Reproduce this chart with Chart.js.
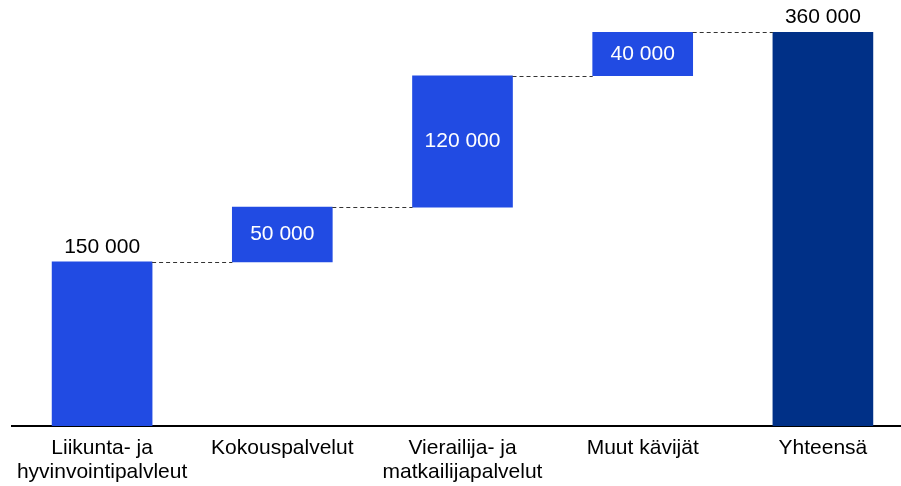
<!DOCTYPE html>
<html>
<head>
<meta charset="utf-8">
<script src="https://cdn.jsdelivr.net/npm/chart.js@4/dist/chart.umd.min.js"></script>
<style>
  html, body { margin: 0; padding: 0; background: #fff; overflow: hidden; }
  #wrap { width: 913px; height: 486px; }
</style>
</head>
<body>
<div id="wrap"><canvas id="chart" width="913" height="486"></canvas></div>
<script>
const categories = [
  ['Liikunta- ja', 'hyvinvointipalvleut'],
  'Kokouspalvelut',
  ['Vierailija- ja', 'matkailijapalvelut'],
  'Muut kävijät',
  'Yhteensä'
];
const increments = [150000, 50000, 120000, 40000];
const total = 360000;

const blue = '#214be3';
const darkBlue = '#003087';
const fontFamily = '"Liberation Sans", Arial, sans-serif';

// floating ranges built from the increments, last one is the total from zero
const ranges = [];
let running = 0;
increments.forEach(v => {
  ranges.push([running, running + v]);
  running += v;
});
ranges.push([0, total]);
const labelValues = increments.concat([total]);

function fmt(n) {
  return String(n).replace(/\B(?=(\d{3})+(?!\d))/g, ' ');
}

const waterfallExtras = {
  id: 'waterfallExtras',
  afterDatasetsDraw(chart) {
    const ctx = chart.ctx;
    const meta = chart.getDatasetMeta(0);
    const y = chart.scales.y;

    // dashed connectors
    ctx.save();
    ctx.strokeStyle = '#333';
    ctx.lineWidth = 1;
    ctx.setLineDash([4, 3]);
    for (let i = 0; i < meta.data.length - 1; i++) {
      const a = meta.data[i];
      const b = meta.data[i + 1];
      const level = Math.round(y.getPixelForValue(ranges[i][1])) + 0.5;
      ctx.beginPath();
      ctx.moveTo(a.x + a.width / 2, level);
      ctx.lineTo(b.x - b.width / 2, level);
      ctx.stroke();
    }
    ctx.restore();

    // value labels
    ctx.save();
    ctx.font = '21px ' + fontFamily;
    ctx.textAlign = 'center';
    meta.data.forEach((bar, i) => {
      const r = ranges[i];
      const text = fmt(labelValues[i]);
      if (r[0] === 0) {
        ctx.fillStyle = '#000';
        ctx.textBaseline = 'alphabetic';
        ctx.fillText(text, bar.x, y.getPixelForValue(r[1]) - 9);
      } else {
        ctx.fillStyle = '#fff';
        ctx.textBaseline = 'middle';
        ctx.fillText(text, bar.x, (y.getPixelForValue(r[0]) + y.getPixelForValue(r[1])) / 2);
      }
    });
    ctx.restore();
  }
};

new Chart(document.getElementById('chart'), {
  type: 'bar',
  data: {
    labels: categories,
    datasets: [{
      data: ranges,
      backgroundColor: ranges.map((r, i) => i === ranges.length - 1 ? darkBlue : blue),
      borderWidth: 0,
      barThickness: 100
    }]
  },
  options: {
    responsive: false,
    animation: false,
    layout: { padding: { top: 32, left: 12, right: 0, bottom: 0 } },
    plugins: {
      legend: { display: false },
      tooltip: { enabled: false }
    },
    scales: {
      x: {
        grid: { display: false },
        border: { display: true, color: '#000', width: 2 },
        ticks: {
          color: '#000',
          font: { family: fontFamily, size: 21, lineHeight: 1.15 },
          maxRotation: 0,
          autoSkip: false,
          padding: 2
        },
        afterFit(scale) { scale.height = 60; }
      },
      y: {
        display: false,
        min: 0,
        max: 360000
      }
    }
  },
  plugins: [waterfallExtras]
});
</script>
</body>
</html>
